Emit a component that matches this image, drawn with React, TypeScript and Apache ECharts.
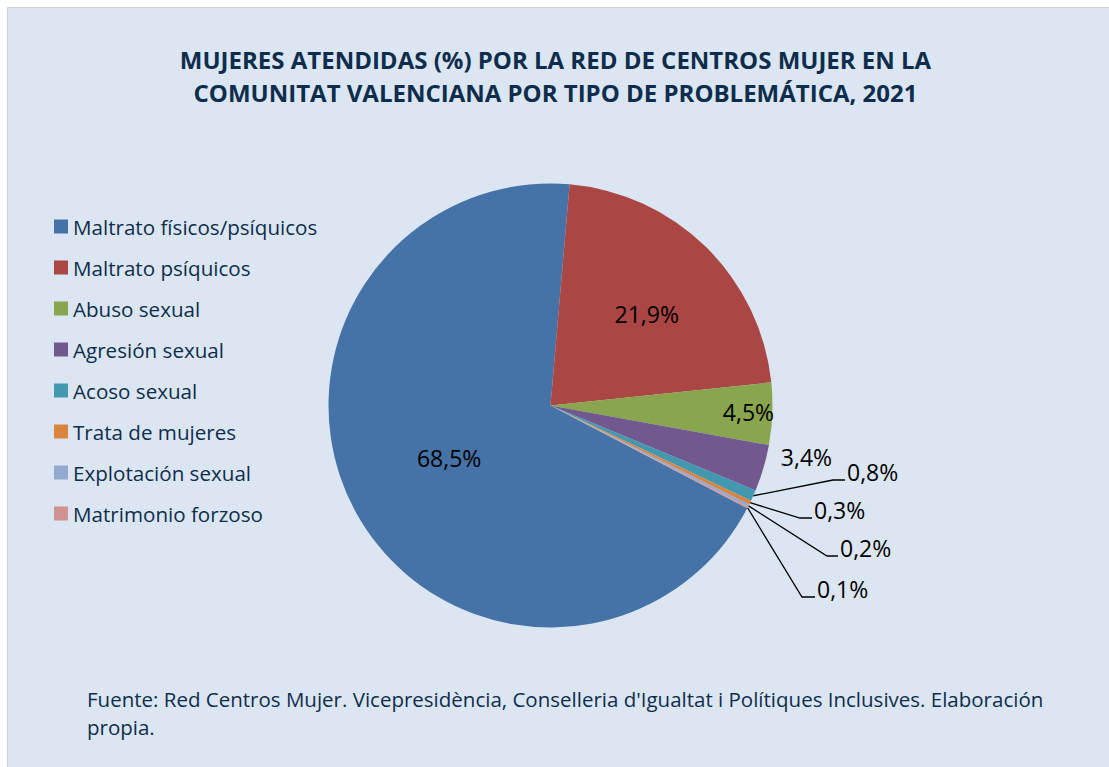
import React, { useEffect, useRef } from "react";
import * as echarts from "echarts";

const categories = [
  "Maltrato físicos/psíquicos",
  "Maltrato psíquicos",
  "Abuso sexual",
  "Agresión sexual",
  "Acoso sexual",
  "Trata de mujeres",
  "Explotación sexual",
  "Matrimonio forzoso",
];
const values = [68.5, 21.9, 4.5, 3.4, 0.8, 0.3, 0.2, 0.1];
const colors = ["#4572A7", "#AA4643", "#89A54E", "#71588F", "#4198AF", "#DB843D", "#93A9CF", "#D19392"];
const titleLines = [
  "MUJERES ATENDIDAS (%) POR LA RED DE CENTROS MUJER EN LA",
  "COMUNITAT VALENCIANA POR TIPO DE PROBLEMÁTICA, 2021",
];
const sourceLines = [
  "Fuente: Red Centros Mujer. Vicepresidència, Conselleria d'Igualtat i Polítiques Inclusives. Elaboración",
  "propia.",
];

// layout
const CX = 550.5;
const CY = 405.5;
const RADIUS = 222;
const LABEL_RX = 229;
const LABEL_RY = 214.5;
const START_ANGLE = 332.4;
const FONT = "'Open Sans', Lato, sans-serif";
const NAVY = "#0E2D4C";

// inside labels: fraction of radius along mid-angle
const insideFactor: Record<number, number> = { 0: 0.505, 1: 0.6, 2: 0.865 };
// outside labels: offsets from the pie centre
const outsideText: Record<number, [number, number]> = { 3: [256, 51.5] };
const leaderLines: Record<number, { elbow: [number, number]; end: [number, number] }> = {
  4: { elbow: [282.5, 74.5], end: [294.5, 74.5] },
  5: { elbow: [249.5, 112.5], end: [261.5, 112.5] },
  6: { elbow: [276.5, 150.5], end: [287.5, 150.5] },
  7: { elbow: [251.5, 191.5], end: [264.5, 191.5] },
};

const total = values.reduce((a, b) => a + b, 0);
function midAngle(i: number) {
  let cum = 0;
  for (let k = 0; k < i; k++) cum += values[k];
  const deg = START_ANGLE - ((cum + values[i] / 2) / total) * 360;
  return (deg * Math.PI) / 180;
}

export default function App() {
  const ref = useRef<HTMLDivElement>(null);
  useEffect(() => {
    if (!ref.current) return;
    const chart = echarts.init(ref.current, undefined, { renderer: "svg" });
    const fmt = (v: number) => v.toFixed(1).replace(".", ",") + "%";
    chart.setOption({
      animation: false,
      backgroundColor: "#ffffff",
      graphic: [
        {
          type: "rect",
          shape: { x: 7.5, y: 7.5, width: 1110, height: 770 },
          style: { fill: "#DCE6F2", stroke: "#D0D0D0", lineWidth: 1 },
          z: -10,
        },
        {
          type: "text",
          left: 87,
          top: 684.5,
          style: {
            text: sourceLines.join("\n"),
            font: `20.5px ${FONT}`,
            fill: NAVY,
            lineHeight: 28,
          },
        },
      ],
      title: {
        text: titleLines.join("\n"),
        left: 550.5,
        top: 38,
        textAlign: "center",
        textStyle: {
          fontFamily: FONT,
          fontWeight: "bold",
          fontSize: 24,
          lineHeight: 33,
          color: NAVY,
        },
      },
      legend: {
        orient: "vertical",
        left: 49,
        top: 211,
        icon: "rect",
        itemWidth: 14,
        itemHeight: 14,
        itemGap: 20,
        data: categories,
        textStyle: { fontFamily: FONT, fontSize: 20.6, lineHeight: 20, color: NAVY },
      },
      series: [
        {
          type: "pie",
          center: [CX, CY],
          radius: RADIUS,
          startAngle: START_ANGLE,
          clockwise: true,
          avoidLabelOverlap: false,
          data: categories.map((name, i) => ({
            name,
            value: values[i],
            itemStyle: { color: colors[i] },
            label: { position: insideFactor[i] !== undefined ? "inside" : "outside" },
            labelLine: { show: leaderLines[i] !== undefined },
          })),
          label: {
            show: true,
            formatter: (p: any) => fmt(p.value),
            fontFamily: FONT,
            fontSize: 23,
            color: "#000000",
          },
          labelLine: {
            lineStyle: { color: "#000000", width: 1.3 },
          },
          labelLayout: (p: any) => {
            const i = p.dataIndex;
            const a = midAngle(i);
            const ca = Math.cos(a);
            const sa = -Math.sin(a);
            if (insideFactor[i] !== undefined) {
              const f = insideFactor[i];
              return {
                x: CX + f * LABEL_RX * ca,
                y: CY + f * LABEL_RY * sa,
                align: "center",
                verticalAlign: "middle",
              };
            }
            if (outsideText[i]) {
              const o = outsideText[i];
              return { x: CX + o[0], y: CY + o[1], align: "center", verticalAlign: "middle" };
            }
            const l = leaderLines[i];
            const start = [CX + RADIUS * ca, CY + RADIUS * sa];
            const elbow = [CX + l.elbow[0], CY + l.elbow[1]];
            const end = [CX + l.end[0], CY + l.end[1]];
            return {
              x: end[0] + 2,
              y: end[1] + 3,
              align: "left",
              verticalAlign: "bottom",
              labelLinePoints: [start, elbow, end],
            };
          },
          itemStyle: { borderWidth: 0 },
          emphasis: { disabled: true },
        },
      ],
    });
    return () => chart.dispose();
  }, []);
  return (
    <div
      ref={ref}
      style={{ position: "absolute", left: 0, top: 0, width: 1109, height: 767 }}
    />
  );
}
